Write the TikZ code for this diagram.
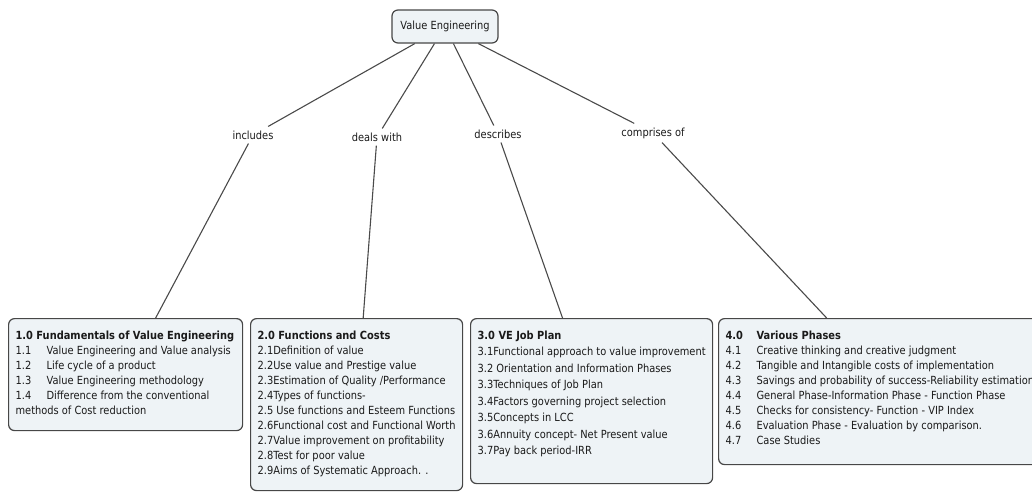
\documentclass[tikz,border=0pt]{standalone}
\usepackage{fontspec}
\setmainfont{DejaVu Sans}[FakeStretch=0.88]
\usetikzlibrary{positioning}

\definecolor{boxfill}{HTML}{EEF3F6}
\definecolor{boxline}{HTML}{474747}
\definecolor{linkgray}{HTML}{4A4A4A}
\definecolor{inkgray}{HTML}{1A1A1A}

% number column for the numbered lines
\newcommand{\numitem}[2]{\makebox[31pt][l]{#1}#2}
% fixed height body of a topic box
\newcommand{\boxbody}[3]{\parbox[t][#1][t]{#2}{#3}}

\tikzset{
  topic/.style={draw=boxline, fill=boxfill, line width=1.2pt, rounded corners=6pt,
    anchor=north west, inner xsep=7pt, inner ysep=12pt, text=inkgray,
    font=\fontsize{11.2}{15}\selectfont},
  linkword/.style={inner sep=4pt, text=inkgray, font=\fontsize{11.2}{13}\selectfont},
  link/.style={draw=linkgray, line width=1.1pt}
}

\begin{document}
\begin{tikzpicture}[x=1pt, y=-1pt]
\useasboundingbox (0,0) rectangle (1032,496);
\clip (0,0) rectangle (1032,496);

% Root
\node[topic, anchor=center, minimum width=106pt, minimum height=33pt, inner ysep=4pt]
  (ve) at (445,26.5) {Value Engineering};

% Linking words
\node[linkword] (inc) at (253,135) {includes};
\node[linkword] (deal) at (377,137) {deals with};
\node[linkword] (desc) at (498,134) {describes};
\node[linkword] (comp) at (653,133) {comprises of};

% Topic boxes
\node[topic] (fund) at (8,318) {\boxbody{88pt}{220pt}{%
  \textbf{1.0 Fundamentals of Value Engineering}\\
  \numitem{1.1}{Value Engineering and Value analysis}\\
  \numitem{1.2}{Life cycle of a product}\\
  \numitem{1.3}{Value Engineering methodology}\\
  \numitem{1.4}{Difference from the conventional}\\
  methods of Cost reduction}};

\node[topic] (func) at (250,318) {\boxbody{148pt}{198pt}{%
  \textbf{2.0 Functions and Costs}\\
  2.1Definition of value\\
  2.2Use value and Prestige value\\
  2.3Estimation of Quality /Performance\\
  2.4Types of functions-\\
  2.5 Use functions and Esteem Functions\\
  2.6Functional cost and Functional Worth\\
  2.7Value improvement on profitability\\
  2.8Test for poor value\\
  2.9Aims of Systematic Approach. .}};

\node[topic, font=\fontsize{11.2}{16.5}\selectfont] (plan) at (470,318) {\boxbody{141pt}{228pt}{%
  \textbf{3.0 VE Job Plan}\\
  3.1Functional approach to value improvement\\
  3.2 Orientation and Information Phases\\
  3.3Techniques of Job Plan\\
  3.4Factors governing project selection\\
  3.5Concepts in LCC\\
  3.6Annuity concept- Net Present value\\
  3.7Pay back period-IRR}};

\node[topic] (phase) at (718,318) {\boxbody{122pt}{340pt}{%
  \textbf{\numitem{4.0}{Various Phases}}\\
  \numitem{4.1}{Creative thinking and creative judgment}\\
  \numitem{4.2}{Tangible and Intangible costs of implementation}\\
  \numitem{4.3}{Savings and probability of success-Reliability estimation}\\
  \numitem{4.4}{General Phase-Information Phase - Function Phase}\\
  \numitem{4.5}{Checks for consistency- Function - VIP Index}\\
  \numitem{4.6}{Evaluation Phase - Evaluation by comparison.}\\
  \numitem{4.7}{Case Studies}}};

% Connectors
\draw[link] (ve) -- (inc);
\draw[link] (inc) -- (fund);
\draw[link] (ve) -- (deal);
\draw[link] (deal) -- (func);
\draw[link] (ve) -- (desc);
\draw[link] (desc) -- (plan);
\draw[link] (ve) -- (comp);
\draw[link] (comp) -- (phase);
\end{tikzpicture}
\end{document}
